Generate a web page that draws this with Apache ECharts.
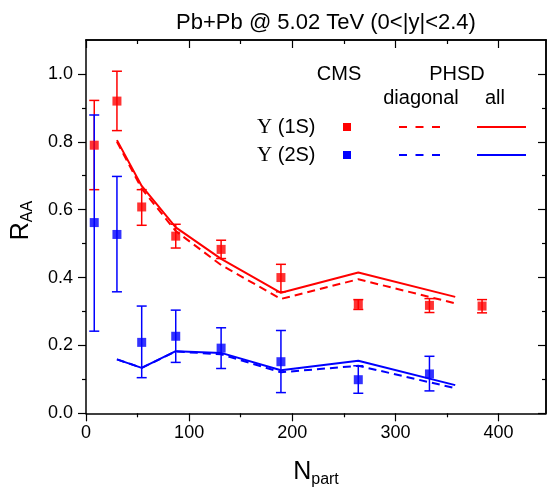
<!DOCTYPE html>
<html>
<head>
<meta charset="utf-8">
<script src="https://cdn.jsdelivr.net/npm/echarts@6/dist/echarts.min.js"></script>
<style>
  html, body { margin: 0; padding: 0; background: #fff; }
  #chart { width: 547px; height: 487px; }
</style>
</head>
<body>
<div id="chart"></div>
<script>
// CMS data, Upsilon(1S) and Upsilon(2S) R_AA vs N_part
const ups1N = [8, 30, 54, 87, 131, 189, 264, 333, 384]
const ups1R = [0.790, 0.920, 0.608, 0.522, 0.483, 0.400, 0.321, 0.318, 0.316]
const ups1Lo = [0.659, 0.833, 0.554, 0.487, 0.456, 0.358, 0.306, 0.297, 0.296]
const ups1Hi = [0.922, 1.008, 0.659, 0.557, 0.510, 0.439, 0.335, 0.338, 0.335]

const ups2N = [8, 30, 54, 87, 131, 189, 264, 333]
const ups2R = [0.562, 0.527, 0.209, 0.227, 0.192, 0.152, 0.099, 0.116]
const ups2Lo = [0.242, 0.358, 0.105, 0.150, 0.132, 0.061, 0.059, 0.066]
const ups2Hi = [0.879, 0.698, 0.316, 0.304, 0.252, 0.244, 0.140, 0.168]

// PHSD curves
const phsdN = [30, 54, 87, 131, 189, 264, 358]
const phsd1All = [0.805, 0.670, 0.548, 0.455, 0.355, 0.415, 0.343]
const phsd1Diag = [0.800, 0.662, 0.537, 0.437, 0.337, 0.395, 0.324]
const phsd2All = [0.159, 0.134, 0.183, 0.178, 0.127, 0.155, 0.083]
const phsd2Diag = [0.159, 0.134, 0.182, 0.174, 0.121, 0.140, 0.074]

// ticks
const xMajor = [0, 100, 200, 300, 400]
const xMinor = [50, 150, 250, 350]
const yMajor = [0, 0.2, 0.4, 0.6, 0.8, 1.0]
const yMinor = [0.1, 0.3, 0.5, 0.7, 0.9]

const RED = '#ff0000'
const BLUE = '#0000ff'
const FONT = 'Liberation Sans, Arial, sans-serif'

const pairs = (xs, ys) => xs.map((x, i) => [x, ys[i]])
const errs = (xs, lo, hi) => xs.map((x, i) => [x, lo[i], hi[i]])

function renderErr(params, api) {
  const x = api.value(0)
  const lo = api.coord([x, api.value(1)])
  const hi = api.coord([x, api.value(2)])
  const w = 5
  const style = {stroke: api.visual('color'), lineWidth: 1.5}
  return {
    type: 'group',
    children: [
      {type: 'line', shape: {x1: lo[0], y1: lo[1], x2: hi[0], y2: hi[1]}, style},
      {type: 'line', shape: {x1: lo[0] - w, y1: lo[1], x2: lo[0] + w, y2: lo[1]}, style},
      {type: 'line', shape: {x1: hi[0] - w, y1: hi[1], x2: hi[0] + w, y2: hi[1]}, style}
    ]
  }
}

const axisCommon = {
  min: 0,
  splitLine: {show: false}
}

function xAx(position, ticks, len, inside, main) {
  return Object.assign({}, axisCommon, {
    type: 'value', position, max: 446,
    axisLine: {show: !!main || position === 'top', onZero: false, lineStyle: {color: '#000', width: 1.5}},
    axisTick: {show: true, inside, length: len, customValues: ticks, lineStyle: {color: '#000', width: 1.2}},
    axisLabel: main ? {
      show: true, customValues: ticks, margin: 11, color: '#000', fontSize: 18, fontFamily: FONT
    } : {show: false}
  })
}

function yAx(position, ticks, len, inside, main) {
  return Object.assign({}, axisCommon, {
    type: 'value', position, max: 1.1,
    axisLine: {show: !!main || position === 'right', onZero: false, lineStyle: {color: '#000', width: 1.5}},
    axisTick: {show: true, inside, length: len, customValues: ticks, lineStyle: {color: '#000', width: 1.2}},
    axisLabel: main ? {
      show: true, customValues: ticks, margin: 13, color: '#000', fontSize: 18, fontFamily: FONT,
      formatter: (v) => v.toFixed(1)
    } : {show: false}
  })
}

const xAxes = [
  xAx('bottom', xMajor, 8, false, true),
  xAx('bottom', xMinor, 4, false, false),
  xAx('top', xMajor, 8, true, false),
  xAx('top', xMinor, 4, true, false)
]
Object.assign(xAxes[0], {
  name: '{n|N}{s|part}',
  nameLocation: 'middle',
  nameGap: 44,
  nameTextStyle: {
    rich: {
      n: {fontSize: 25, lineHeight: 30, fontFamily: FONT, color: '#000'},
      s: {fontSize: 16, lineHeight: 16, verticalAlign: 'bottom', fontFamily: FONT, color: '#000'}
    }
  }
})

const yAxes = [
  yAx('left', yMajor, 8, false, true),
  yAx('left', yMinor, 4, false, false),
  yAx('right', yMajor, 8, true, false),
  yAx('right', yMinor, 4, true, false)
]
Object.assign(yAxes[0], {
  name: '{r|R}{s|AA}',
  nameLocation: 'middle',
  nameRotate: 90,
  nameGap: 50,
  nameTextStyle: {
    padding: [0, 0, 0, 12],
    rich: {
      r: {fontSize: 25, lineHeight: 30, fontFamily: FONT, color: '#000'},
      s: {fontSize: 16, lineHeight: 16, verticalAlign: 'bottom', fontFamily: FONT, color: '#000'}
    }
  }
})

const legendText = (text, x, y) => ({
  type: 'text', x, y,
  style: {text, fill: '#000', fontSize: 20, fontFamily: FONT, align: 'center', verticalAlign: 'middle'}
})
const legendRow = (label, color, y) => [
  {
    type: 'text', x: 257, y,
    style: {
      text: '{u|Υ}{t| (' + label + ')}', verticalAlign: 'middle', align: 'left',
      rich: {
        u: {fontSize: 21, fontFamily: 'Liberation Serif, Times New Roman, serif', fill: '#000'},
        t: {fontSize: 20, fontFamily: FONT, fill: '#000'}
      }
    }
  },
  {type: 'rect', shape: {x: 343, y: y - 4, width: 8, height: 8}, style: {fill: color}},
  {type: 'line', shape: {x1: 399, y1: y, x2: 441, y2: y}, style: {stroke: color, lineWidth: 2, lineDash: [8, 8.5]}},
  {type: 'line', shape: {x1: 477, y1: y, x2: 526, y2: y}, style: {stroke: color, lineWidth: 2}}
]

const chart = echarts.init(document.getElementById('chart'))
chart.setOption({
  animation: false,
  backgroundColor: '#fff',
  title: {
    text: 'Pb+Pb @ 5.02 TeV (0<|y|<2.4)',
    left: 321, top: 7, textAlign: 'center',
    textStyle: {fontSize: 22, fontWeight: 'normal', fontFamily: FONT, color: '#000'}
  },
  grid: {left: 86, right: 1, top: 40, bottom: 73.7, containLabel: false, outerBoundsMode: 'none'},
  xAxis: xAxes,
  yAxis: yAxes,
  graphic: [
    legendText('CMS', 339, 74),
    legendText('PHSD', 457, 74),
    legendText('diagonal', 421, 98),
    legendText('all', 495, 98),
    ...legendRow('1S', RED, 127),
    ...legendRow('2S', BLUE, 155)
  ],
  series: [
    {type: 'line', data: pairs(phsdN, phsd1Diag), showSymbol: false, lineStyle: {color: RED, width: 2, type: [8, 5]}},
    {type: 'line', data: pairs(phsdN, phsd1All), showSymbol: false, lineStyle: {color: RED, width: 2}},
    {type: 'line', data: pairs(phsdN, phsd2Diag), showSymbol: false, lineStyle: {color: BLUE, width: 2, type: [8, 5]}},
    {type: 'line', data: pairs(phsdN, phsd2All), showSymbol: false, lineStyle: {color: BLUE, width: 2}},
    {type: 'custom', renderItem: renderErr, data: errs(ups1N, ups1Lo, ups1Hi), itemStyle: {color: RED}, encode: {x: 0, y: [1, 2]}},
    {type: 'custom', renderItem: renderErr, data: errs(ups2N, ups2Lo, ups2Hi), itemStyle: {color: BLUE}, encode: {x: 0, y: [1, 2]}},
    {type: 'scatter', data: pairs(ups1N, ups1R), symbol: 'rect', symbolSize: 9, itemStyle: {color: RED}},
    {type: 'scatter', data: pairs(ups2N, ups2R), symbol: 'rect', symbolSize: 9, itemStyle: {color: BLUE}}
  ]
})
</script>
</body>
</html>
